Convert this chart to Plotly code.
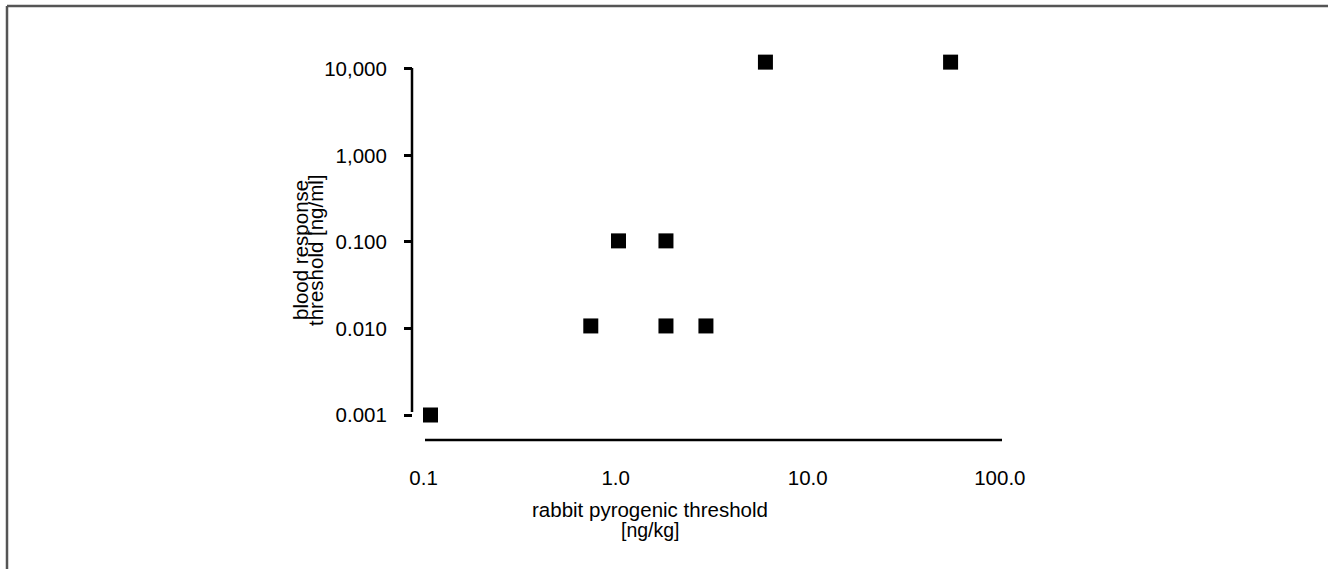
import plotly.graph_objects as go

# data
rabbit_threshold = [0.1086, 0.742, 1.034, 1.827, 1.827, 2.95, 6.02, 55.4]
blood_threshold = [0.001, 0.0107, 0.103, 0.103, 0.0107, 0.0107, 12.0, 12.0]

x_tickvals = [0.1, 1, 10, 100]
x_ticktext = ["0.1", "1.0", "10.0", "100.0"]
y_tickvals = [0.001, 0.01, 0.1, 1, 10]
y_ticktext = ["0.001", "0.010", "0.100", "1,000", "10,000"]

W, H = 1328, 569
def px(x):
    return x / W
def py(y):
    return 1 - y / H

FONT = "Liberation Sans, Arial, sans-serif"
FS = 20.5

fig = go.Figure()
fig.add_trace(go.Scatter(
    x=rabbit_threshold, y=blood_threshold, mode="markers",
    marker=dict(symbol="square", size=15, color="black", line=dict(width=0)),
    showlegend=False, hoverinfo="x+y",
))

fig.update_layout(
    width=W, height=H,
    margin=dict(l=0, r=0, t=0, b=0),
    paper_bgcolor="white", plot_bgcolor="white",
    font=dict(family=FONT, size=FS, color="black"),
    xaxis=dict(
        type="log", domain=[px(380), px(1040)], range=[-1.227, 2.209],
        tickvals=x_tickvals, ticktext=x_ticktext,
        showgrid=False, zeroline=False, showline=False, ticks="",
        ticklabelstandoff=23, tickfont=dict(size=FS),
        anchor="y",
    ),
    yaxis=dict(
        type="log", domain=[py(440), py(40)], range=[-3.289, 1.335],
        tickvals=y_tickvals, ticktext=y_ticktext,
        showgrid=False, zeroline=False, showline=False,
        ticks="outside", ticklen=8, tickwidth=2.5, tickcolor="black",
        ticklabelstandoff=13, tickfont=dict(size=FS),
        anchor="free", position=px(412),
    ),
    shapes=[
        # y axis line
        dict(type="line", xref="paper", yref="paper",
             x0=px(412), x1=px(412), y0=py(68), y1=py(412),
             line=dict(color="black", width=2.5)),
        # x axis line
        dict(type="line", xref="paper", yref="paper",
             x0=px(425), x1=px(1002), y0=py(440), y1=py(440),
             line=dict(color="black", width=2.5)),
        # frame (top and left)
        dict(type="line", xref="paper", yref="paper",
             x0=px(7), x1=px(1328), y0=py(6), y1=py(6),
             line=dict(color="#555555", width=2.5)),
        dict(type="line", xref="paper", yref="paper",
             x0=px(7), x1=px(7), y0=py(6), y1=py(569),
             line=dict(color="#555555", width=2.5)),
    ],
    annotations=[
        dict(text="rabbit pyrogenic threshold", xref="paper", yref="paper",
             x=px(650), y=py(509), showarrow=False, xanchor="center", yanchor="middle",
             font=dict(size=FS)),
        dict(text="[ng/kg]", xref="paper", yref="paper",
             x=px(650), y=py(530), showarrow=False, xanchor="center", yanchor="middle",
             font=dict(size=FS - 1)),
        dict(text="blood response", xref="paper", yref="paper",
             x=px(301), y=py(250), showarrow=False, xanchor="center", yanchor="middle",
             textangle=-90, font=dict(size=FS)),
        dict(text="threshold [ng/ml]", xref="paper", yref="paper",
             x=px(316), y=py(250), showarrow=False, xanchor="center", yanchor="middle",
             textangle=-90, font=dict(size=FS)),
    ],
)

fig.write_html("out.html")
